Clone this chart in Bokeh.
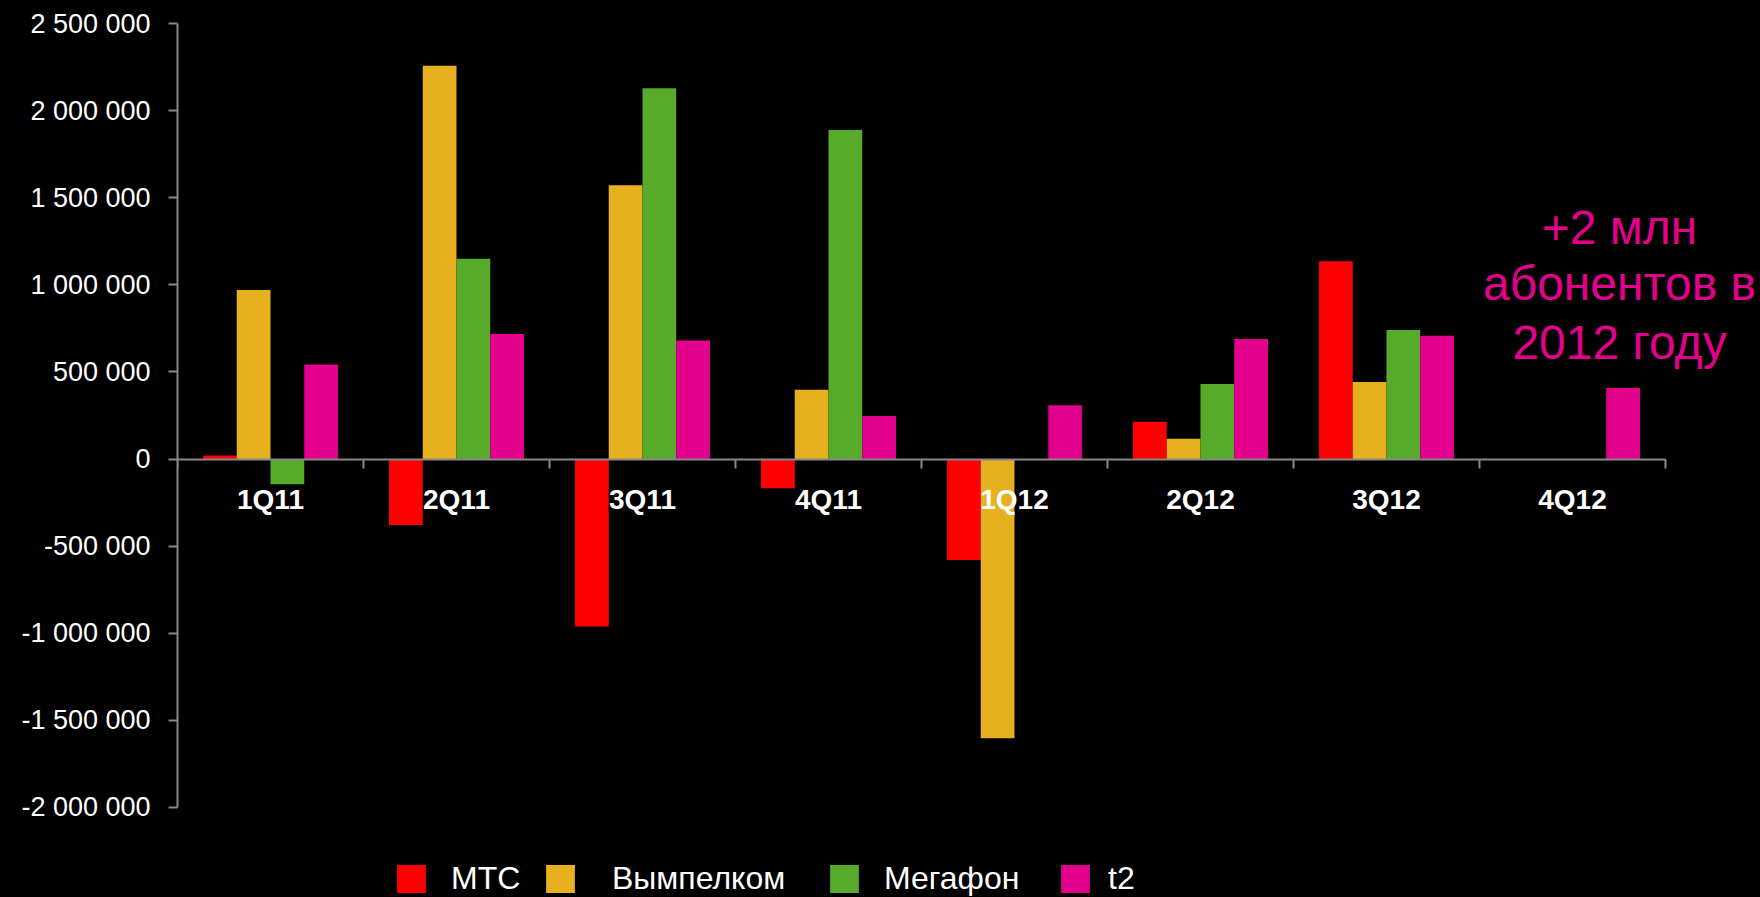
from bokeh.plotting import figure
from bokeh.models import (Range1d, FixedTicker, ColumnDataSource, Legend, LegendItem, Label)
from bokeh.embed import file_html
from bokeh.resources import INLINE

quarters = ["1Q11", "2Q11", "3Q11", "4Q11", "1Q12", "2Q12", "3Q12", "4Q12"]
series_names = ["МТС", "Вымпелком", "Мегафон", "t2"]
mts = [20000, -379000, -962000, -168000, -580000, 214000, 1135000, 0]
vympelcom = [970000, 2258000, 1571000, 398000, -1603000, 117000, 442000, 0]
megafon = [-145000, 1150000, 2128000, 1889000, 0, 430000, 740000, 0]
t2 = [543000, 717000, 681000, 247000, 308000, 689000, 708000, 408000]
y_ticks = [-2000000, -1500000, -1000000, -500000, 0, 500000, 1000000, 1500000, 2000000, 2500000]
note_lines = ["+2 млн", "абонентов в", "2012 году"]

colors = ["#FF0000", "#E6B01F", "#58AA2A", "#E3008C"]
FONT = "Liberation Sans"

W, H = 1760, 897
p = figure(width=W, height=H, output_backend="svg", toolbar_location=None,
           x_range=Range1d(0, 8.511), y_range=Range1d(-2517000, 2500000),
           min_border_left=177, min_border_right=0, min_border_top=23, min_border_bottom=0)
p.background_fill_color = "black"
p.border_fill_color = "black"
p.outline_line_color = None
p.outline_line_alpha = 0
p.xgrid.visible = False
p.ygrid.visible = False

# bars
bw = 0.1815
offsets = [-1.5 * bw, -0.5 * bw, 0.5 * bw, 1.5 * bw]
renderers = []
for vals, col, off in zip([mts, vympelcom, megafon, t2], colors, offsets):
    src = ColumnDataSource(dict(x=[i + 0.5 + off for i in range(len(quarters))], top=vals))
    r = p.vbar(x="x", top="top", bottom=0, width=bw, source=src, fill_color=col, line_color=None)
    renderers.append(r)

axis_color = "#888888"
# y axis
ya = p.yaxis[0]
ya.bounds = (y_ticks[0], y_ticks[-1])
ya.ticker = FixedTicker(ticks=y_ticks, minor_ticks=[])
ya.major_label_overrides = {v: f"{v:,}".replace(",", " ") for v in y_ticks}
ya.axis_line_color = axis_color
ya.axis_line_width = 2
ya.major_tick_line_color = axis_color
ya.major_tick_line_width = 2
ya.major_tick_out = 9
ya.major_tick_in = 0
ya.minor_tick_line_color = None
ya.major_label_text_color = "white"
ya.major_label_text_font = FONT
ya.major_label_text_font_size = "27px"
ya.major_label_standoff = 18

# x axis at y = 0
xa = p.xaxis[0]
xa.fixed_location = 0
xa.bounds = (0, len(quarters))
xa.ticker = FixedTicker(ticks=[i + 0.5 for i in range(len(quarters))],
                        minor_ticks=list(range(len(quarters) + 1)))
xa.major_label_overrides = {i + 0.5: q for i, q in enumerate(quarters)}
xa.axis_line_color = axis_color
xa.axis_line_width = 2
xa.major_tick_line_color = None
xa.major_tick_out = 0
xa.major_tick_in = 0
xa.minor_tick_line_color = axis_color
xa.minor_tick_line_width = 2
xa.minor_tick_out = 9
xa.minor_tick_in = 0
xa.major_label_text_color = "white"
xa.major_label_text_font = FONT
xa.major_label_text_font_style = "bold"
xa.major_label_text_font_size = "28px"
xa.major_label_standoff = 16

# annotation
note_y = [1330000, 1005500, 670300]
for txt, yv in zip(note_lines, note_y):
    p.add_layout(Label(x=7.753, y=yv, text=txt, text_align="center", text_baseline="alphabetic",
                       text_color="#E3008C", text_font=FONT, text_font_size="48px"))

# legend: one legend per item for exact positions
leg_x = [216, 365, 649, 880]
standoffs = [22, 34, 22, 15]
for name, r, lx, so in zip(series_names, renderers, leg_x, standoffs):
    lg = Legend(items=[LegendItem(label=name, renderers=[r])], location=(lx, 0),
                orientation="horizontal", glyph_width=36, glyph_height=35,
                label_standoff=so, label_text_color="white", label_text_font=FONT,
                label_text_font_size="32px", background_fill_alpha=0, border_line_alpha=0,
                padding=0, margin=0, spacing=0, label_height=35)
    p.add_layout(lg, "center")

html = file_html(p, INLINE)
html = html.replace("<head>", "<head><style>html, body { background: #000; }</style>", 1)
open("out.html", "w").write(html)
